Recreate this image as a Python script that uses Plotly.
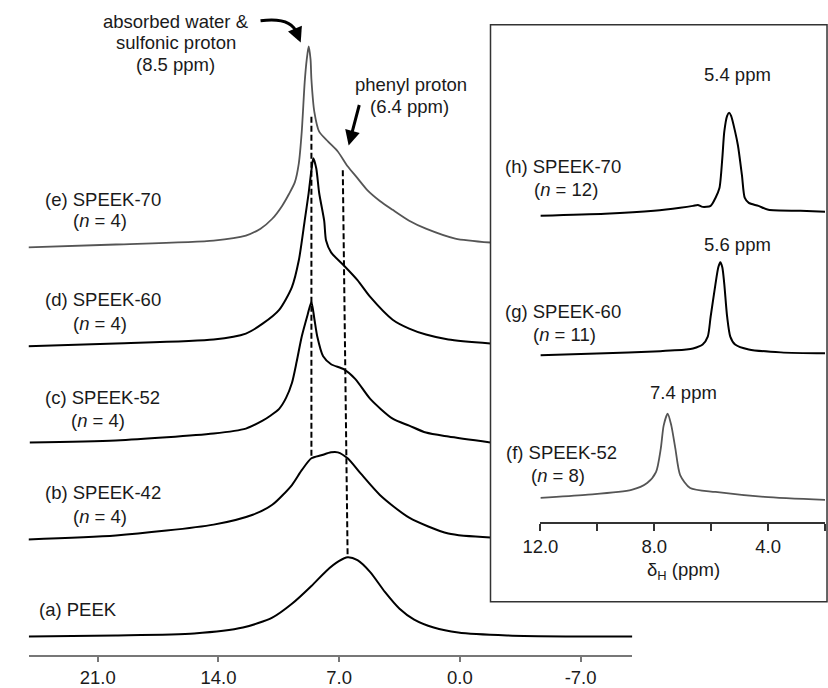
import plotly.graph_objects as go

# ---------------- main spectra (chemical shift ppm, intensity above own baseline) -------------
ppm_a = [25.0, 19.95, 15.41, 12.58, 10.88, 9.74, 8.61, 7.76, 7.02, 6.51, 5.94, 5.20, 4.35, 3.50, 2.65, 1.52, 0.10, -2.74, -6.14, -10.0]
int_a = [0, 1, 3, 9, 19, 33, 51, 66, 76, 80, 77, 65, 45, 28, 17, 9, 4, 1, 0, 0]
off_a = 19

ppm_b = [25.17, 19.95, 14.28, 12.01, 10.88, 9.74, 9.17, 8.61, 8.04, 7.47, 7.08, 6.51, 5.77, 4.64, 2.94, 0.67, -1.77]
int_b = [0, 4, 15, 25, 35, 55, 70, 82, 85, 88, 88, 82, 67, 45, 22, 6, 2]
off_b = 117

ppm_c = [24.94, 19.95, 14.28, 12.41, 11.44, 10.99, 10.48, 10.08, 9.74, 9.46, 9.17, 8.83, 8.61, 8.44, 8.27, 7.93, 7.47, 6.74, 6.06, 5.20, 3.90, 2.94, 1.97, 0.67, -1.77]
int_c = [0, 2, 9, 14, 22, 27, 34, 45, 60, 82, 107, 129, 142, 125, 107, 87, 79, 74, 64, 44, 24, 17, 10, 6, 0]
off_c = 215

ppm_d = [25.17, 19.95, 14.28, 12.41, 11.44, 10.48, 9.74, 9.34, 9.00, 8.77, 8.61, 8.50, 8.33, 8.16, 7.87, 7.76, 7.47, 6.74, 5.94, 5.20, 3.90, 2.94, 1.97, 0.67, -1.77]
int_d = [0, 3, 7, 13, 23, 37, 60, 87, 127, 155, 178, 190, 180, 155, 127, 107, 95, 82, 67, 50, 27, 18, 12, 7, 3]
off_d = 312

ppm_e = [25.17, 19.95, 14.28, 12.41, 11.56, 10.88, 10.31, 9.91, 9.57, 9.34, 9.17, 9.00, 8.88, 8.77, 8.66, 8.61, 8.44, 8.16, 7.64, 7.08, 6.51, 5.94, 5.37, 4.64, 3.90, 2.94, 1.97, 0.27, -1.77]
int_e = [0, 3, 7, 12, 19, 29, 42, 54, 66, 85, 117, 167, 190, 203, 190, 170, 137, 117, 107, 97, 82, 70, 58, 47, 38, 27, 19, 9, 5]
off_e = 412

# reference (dashed) lines
dash_left_ppm = [8.61, 8.61]
dash_left_y = [544, 200]
dash_right_ppm = [6.79, 6.51]
dash_right_y = [490, 99]

# ---------------- inset spectra -------------
ppm_h = [12.0, 9.73, 8.01, 7.09, 6.64, 6.47, 6.30, 6.02, 5.85, 5.71, 5.61, 5.54, 5.44, 5.37, 5.30, 5.16, 5.06, 4.92, 4.82, 4.68, 4.34, 3.99, 2.86, 2.0]
int_h = [0, 2, 5, 8, 10, 11, 9, 10, 18, 28, 58, 85, 101, 104, 101, 85, 71, 41, 18, 13, 10, 6, 5, 4]
off_h = 309

ppm_g = [12.0, 9.73, 8.01, 6.88, 6.64, 6.30, 6.12, 6.02, 5.85, 5.75, 5.68, 5.61, 5.54, 5.44, 5.33, 5.16, 4.68, 3.55, 2.0]
int_g = [0, 2, 4, 6, 7, 11, 19, 39, 72, 89, 94, 89, 72, 39, 19, 11, 6, 3, 2]
off_g = 168

ppm_f = [12.0, 10.42, 8.80, 8.25, 7.94, 7.77, 7.67, 7.53, 7.40, 7.26, 7.09, 6.74, 5.85, 4.13, 2.0]
int_f = [0, 3, 8, 15, 26, 50, 73, 85, 73, 50, 23, 10, 6, 1, -2]
off_f = 24

main_ticks = [21, 14, 7, 0, -7]
main_ticktext = ["21.0", "14.0", "7.0", "0.0", "-7.0"]
inset_ticks = [12, 10, 8, 6, 4, 2]
inset_ticktext = ["12.0", "", "8.0", "", "4.0", ""]

FONT = "Liberation Sans, Arial, Helvetica, sans-serif"
TXT = "#1a1a1a"
FS = 18.5
W, H = 828, 688

fig = go.Figure()

def add(xs, ys, off, color, width, xa="x", ya="y"):
    fig.add_trace(go.Scatter(
        x=xs, y=[off + v for v in ys], mode="lines",
        line=dict(color=color, width=width, shape="spline", smoothing=0.7),
        xaxis=xa, yaxis=ya, hoverinfo="skip", showlegend=False))

add(ppm_a, int_a, off_a, "#000000", 2)
add(ppm_b, int_b, off_b, "#000000", 2)
add(ppm_c, int_c, off_c, "#000000", 2)
add(ppm_d, int_d, off_d, "#000000", 2)
add(ppm_e, int_e, off_e, "#555555", 1.8)

for xs, ys in [(dash_left_ppm, dash_left_y), (dash_right_ppm, dash_right_y)]:
    fig.add_trace(go.Scatter(x=xs, y=ys, mode="lines",
                             line=dict(color="#000000", width=2, dash="6px,3px"),
                             hoverinfo="skip", showlegend=False))

add(ppm_h, int_h, off_h, "#000000", 2, "x2", "y2")
add(ppm_g, int_g, off_g, "#000000", 2, "x2", "y2")
add(ppm_f, int_f, off_f, "#555555", 1.8, "x2", "y2")

fig.update_layout(
    width=W, height=H, margin=dict(l=0, r=0, t=0, b=0),
    paper_bgcolor="white", plot_bgcolor="white",
    font=dict(family=FONT, size=FS, color=TXT),
    xaxis=dict(domain=[11 / W, 628 / W], range=[25, -10], anchor="y",
               showline=True, linecolor="#777777", linewidth=1.5,
               ticks="outside", ticklen=5, tickwidth=1.5, tickcolor="#777777",
               tickvals=main_ticks, ticktext=main_ticktext,
               showgrid=False, zeroline=False, tickfont=dict(size=FS, color=TXT)),
    yaxis=dict(domain=[26 / H, 1], range=[0, 662], visible=False, fixedrange=True),
    xaxis2=dict(domain=[534 / W, 825 / W], range=[12, 2], anchor="y2",
                showline=True, linecolor="#333333", linewidth=2,
                ticks="outside", ticklen=7, tickwidth=2, tickcolor="#333333",
                tickvals=inset_ticks, ticktext=inset_ticktext,
                showgrid=False, zeroline=False, tickfont=dict(size=FS, color=TXT)),
    yaxis2=dict(domain=[161 / H, 658 / H], range=[0, 497], visible=False, fixedrange=True),
)

# inset frame
fig.add_shape(type="rect", xref="paper", yref="paper",
              x0=483 / W, x1=827 / W, y0=(H - 608) / H, y1=(H - 25) / H,
              line=dict(color="#333333", width=1.5), fillcolor="rgba(0,0,0,0)", layer="above")

# curved arrow body
fig.add_shape(type="path", xref="x", yref="y",
              path="M 11.56,641 Q 9.74,645 9.46,628",
              line=dict(color="#000000", width=3))

anns = []
def txt(t, px, py, anchor="left"):
    anns.append(dict(text=t, xref="paper", yref="paper", x=px / W, y=(H - py) / H,
                     xanchor=anchor, yanchor="middle", showarrow=False,
                     font=dict(family=FONT, size=FS, color=TXT)))

txt("absorbed water &", 162, 22, "center")
txt("sulfonic proton", 162, 43, "center")
txt("(8.5 ppm)", 161, 65, "center")
txt("phenyl proton", 402, 85, "center")
txt("(6.4 ppm)", 400, 108, "center")

txt("(e) SPEEK-70", 26, 202)
txt("(<i>n</i> = 4)", 54, 223)
txt("(d) SPEEK-60", 26, 303)
txt("(<i>n</i> = 4)", 54, 327)
txt("(c) SPEEK-52", 26, 402)
txt("(<i>n</i> = 4)", 52, 425)
txt("(b) SPEEK-42", 26, 498)
txt("(<i>n</i> = 4)", 54, 522)
txt("(a) PEEK", 19, 616)

txt("5.4 ppm", 735, 75, "center")
txt("(h) SPEEK-70", 496, 168)
txt("(<i>n</i> = 12)", 525, 191)
txt("5.6 ppm", 735, 247, "center")
txt("(g) SPEEK-60", 496, 315)
txt("(<i>n</i> = 11)", 524, 338)
txt("7.4 ppm", 680, 397, "center")
txt("(f) SPEEK-52", 497, 457)
txt("(<i>n</i> = 8)", 522, 480)
txt("δ<sub>H</sub> (ppm)", 680, 577, "center")

# arrow heads
anns.append(dict(text="", x=9.23, y=619, xref="x", yref="y", ax=-5, ay=-12,
                 showarrow=True, arrowhead=2, arrowsize=1, arrowwidth=3, arrowcolor="#000000"))
anns.append(dict(text="", x=6.45, y=515, xref="x", yref="y", ax=11, ay=-42,
                 showarrow=True, arrowhead=2, arrowsize=1, arrowwidth=3, arrowcolor="#000000"))

fig.update_layout(annotations=anns)

fig.write_html("out.html")
